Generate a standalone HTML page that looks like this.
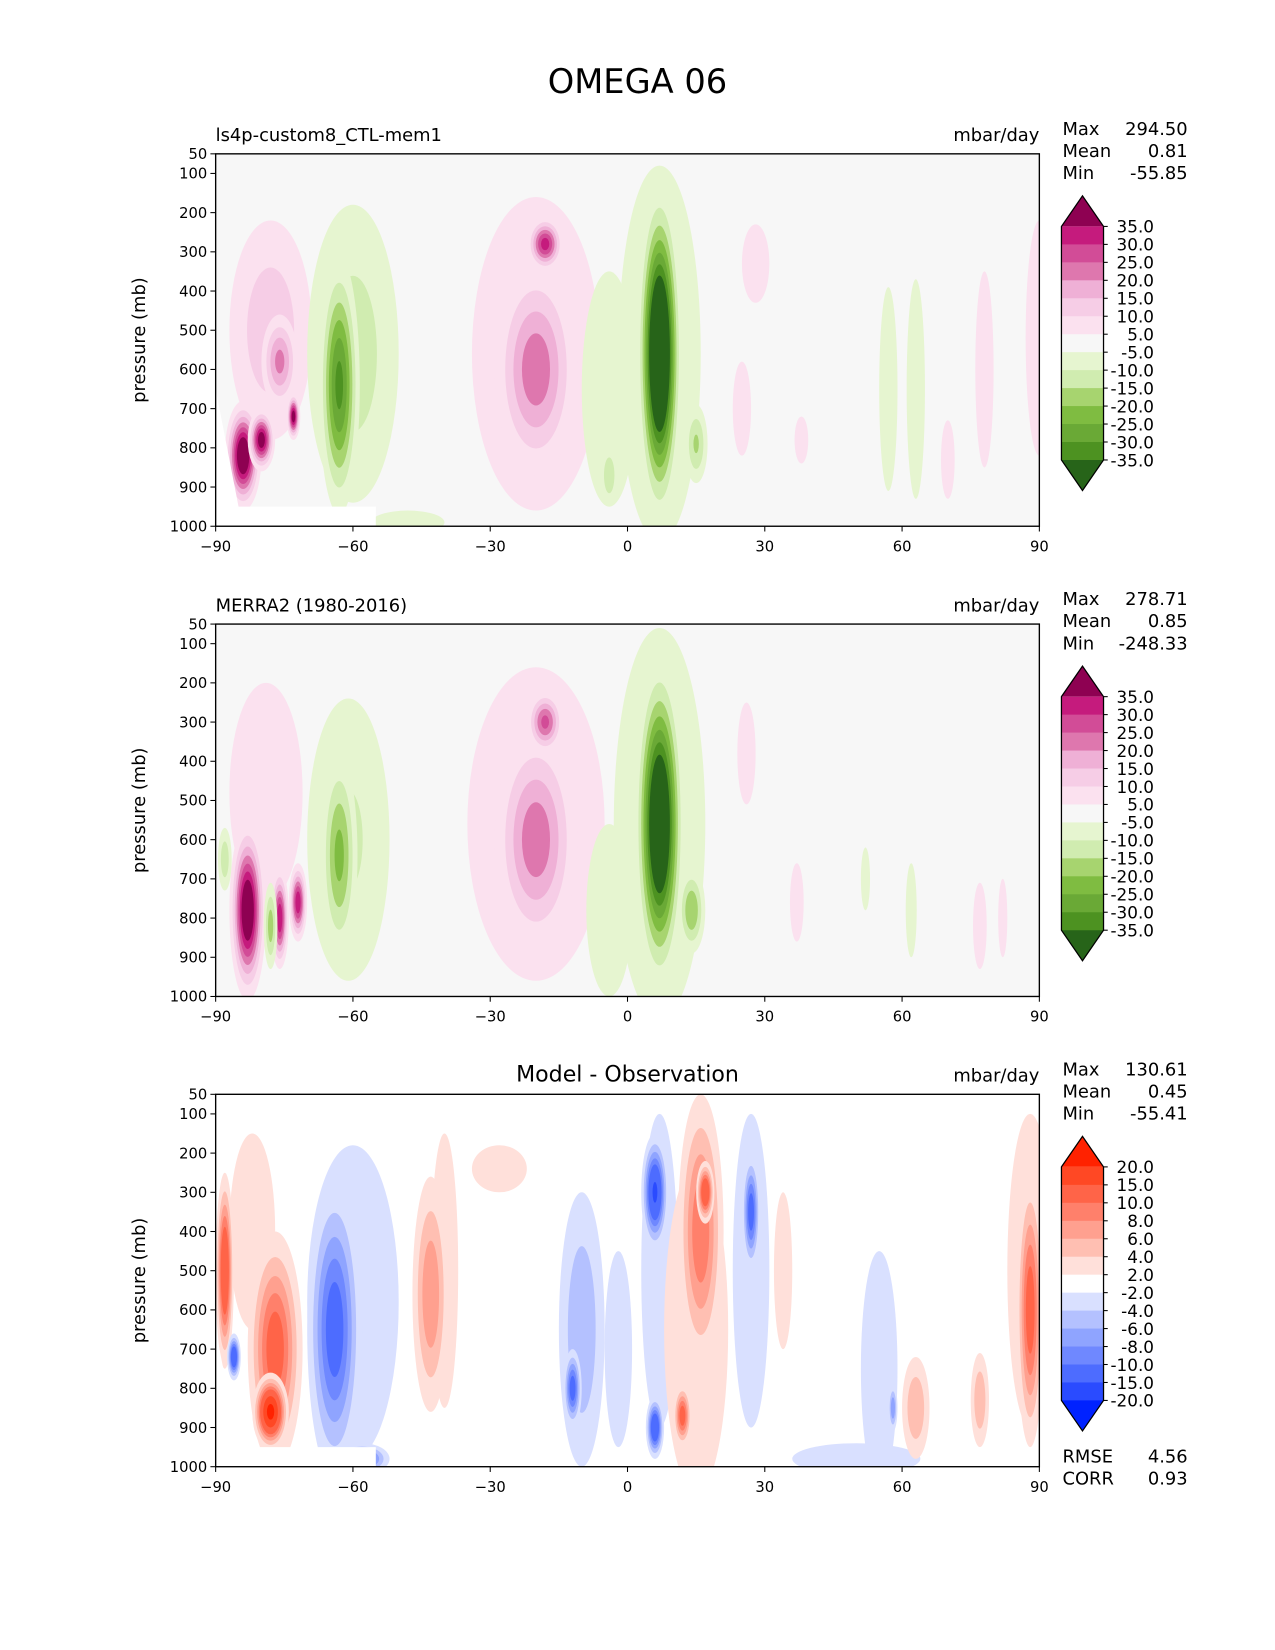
<!DOCTYPE html>
<html><head><meta charset="utf-8"><style>
html,body{margin:0;padding:0;background:#fff;}
svg{display:block;font-family:"DejaVu Sans","Liberation Sans",sans-serif;}
</style></head><body>
<svg id="fig" width="1275" height="1650" viewBox="0 0 1212 1568" xmlns="http://www.w3.org/2000/svg">
<rect width="1212" height="1568" fill="#fff"/>
<text x="606" y="88" font-size="32" text-anchor="middle">OMEGA 06</text>
</svg>
<script>
// ---- data ----
const latTicks=[-90,-60,-30,0,30,60,90];
const presTicks=[50,100,200,300,400,500,600,700,800,900,1000];
const fullBounds=[-35,-30,-25,-20,-15,-10,-5,5,10,15,20,25,30,35];
const fullColors=['#276419','#3f7f1f','#4d9221','#6aa936','#7fbc41','#a7d46f','#d0ecb0','#e6f5d0','#f7f7f7','#fbe1ef','#f6cde6','#efb0d6','#de77ae','#d24c97','#c51b7d','#8e0152'];
const diffBounds=[-20,-15,-10,-8,-6,-4,-2,2,4,6,8,10,15,20];
const diffColors=['#0022ff','#2a4bff','#4d6cff','#6f88ff','#8fa4ff','#b4c1ff','#d9e0ff','#ffffff','#ffe0da','#ffbfb2','#ffa08f','#ff806b','#ff6448','#ff4824','#ff2200'];
// blobs: [lat, pressure, halfWidthLat, halfHeightP, peakValue]
const blobsModel=[[-78,500,9,280,14],[-76,580,4,120,22],[-84,820,4,140,45],[-80,780,3,80,40],[-73,720,1.5,60,40],
[-60,560,10,380,-13],[-63,640,4.5,330,-32],[-48,990,8,30,-7],
[-20,560,14,400,14],[-20,600,9,270,24],[-18,280,4,70,33],
[-4,650,6,300,-8],[-4,870,2,80,-14],[7,560,9,480,-12],[7,560,5,440,-58],[15,790,2.5,100,-16],
[28,330,3,100,7],[25,700,2,120,7],[38,780,1.5,60,7],[57,650,2,260,-7],[63,650,2,280,-7],[78,600,2,250,7],[90,520,3,300,7],[70,830,1.5,100,7]];
const blobsObs=[[-79,480,8,280,9],[-83,780,4,230,45],[-76,800,2,130,35],[-72,760,2,100,35],[-78,820,1.5,110,-18],[-88,650,1.5,80,-14],
[-61,600,9,360,-11],[-63,640,4,260,-22],
[-20,560,15,400,14],[-20,600,9,280,24],[-18,300,4,80,27],
[-4,780,5,220,-9],[7,560,10,500,-12],[7,560,5.5,430,-52],[14,780,3,110,-20],
[26,380,2,130,7],[37,760,1.5,100,7],[52,700,1,80,-7],[62,780,1.2,120,-7],[77,820,1.5,110,7],[82,800,1,100,7]];
const blobsDiff=[[-82,400,5,250,4],[-88,500,2,250,15],[-77,700,6,300,12],[-78,860,4,100,22],[-86,720,1.5,60,-15],
[-60,580,10,400,-4],[-64,650,6,380,-12],[-58,980,6,40,-12],
[-40,500,3,350,4],[-43,560,4,300,8],[-28,240,6,60,4],
[-2,700,3,250,-4],[-10,650,5,350,-6],[-12,800,2,100,-12],
[7,500,4,400,-4],[6,300,3,150,-16],[6,900,2,80,-15],
[15,650,7,420,4],[16,400,5,350,10],[17,300,2,80,15],[12,870,2,80,12],
[27,500,4,400,-4],[27,350,2,150,-12],[34,500,2,200,4],
[50,980,14,40,-4],[55,750,4,300,-4],[58,850,1,60,-8],
[63,850,3,130,6],[77,830,2,120,6],[88,500,5,400,4],[88,600,3,350,12]];
const statsModel=['294.50','0.81','-55.85'];
const statsObs=['278.71','0.85','-248.33'];
const statsDiff=['130.61','0.45','-55.41'];
const fullLabels=['35.0','30.0','25.0','20.0','15.0','10.0','5.0','-5.0','-10.0','-15.0','-20.0','-25.0','-30.0','-35.0'];
const diffLabels=['20.0','15.0','10.0','8.0','6.0','4.0','2.0','-2.0','-4.0','-6.0','-8.0','-10.0','-15.0','-20.0'];

const NS='http://www.w3.org/2000/svg';
const svg=document.getElementById('fig');
function mk(tag,attrs,parent){const e=document.createElementNS(NS,tag);for(const k in attrs)e.setAttribute(k,attrs[k]);(parent||svg).appendChild(e);return e;}
function txt(s,attrs,parent){const e=mk('text',attrs,parent);e.textContent=s;return e;}

function panel(idx,top,blobs,bounds,colorsIn,lmin,title,center,stats,labels,mask,extra){
  // ensure colors length = bounds.length+1
  let colors=colorsIn;
  if(colors.length>bounds.length+1){colors=colorsIn.filter((c,i)=>i!==1);}
  const L=205,R=988,T=top,B=top+354;
  const xs=lat=>L+(lat+90)/180*(R-L);
  const ys=p=>T+(p-50)/950*(B-T);
  const g=mk('g',{});
  
  
  const cid='clip'+idx;
  const cp=mk('clipPath',{id:cid},g);mk('rect',{x:L,y:T,width:R-L,height:B-T},cp);
  const bgIdx=bounds.filter(b=>b<=0).length;
  const bg=mk('rect',{x:L,y:T,width:R-L,height:B-T,fill:colors[bgIdx]},g);
  
  
  const fg=mk('g',{'clip-path':'url(#'+cid+')'},g);
  blobs.forEach((b,i)=>{
    const [lat,p,hw,hh,v]=b;
    const lv=bounds.filter(x=>v>0?(x>0&&x<v):(x<0&&x>v));
    if(v<0)lv.sort((a,c)=>c-a);
    const norm=Math.sqrt(Math.log(Math.abs(v)/lmin));
    lv.forEach(l=>{
      const r=Math.sqrt(Math.log(Math.abs(v)/Math.abs(l)))/norm;
      const val=v>0?l+0.001:l-0.001;
      const ci=bounds.filter(x=>x<=val).length;
      const e=mk('ellipse',{cx:xs(lat),cy:ys(p),rx:Math.max(0.5,(xs(lat+hw*r)-xs(lat))),ry:Math.max(0.5,ys(p+hh*r)-ys(p)),fill:colors[ci]},fg);
      
      
    });
  });
  if(mask){
    const pts=[[-90,650],[-85,950],[-55,950],[-55,1000],[-90,1000]].map(q=>xs(q[0])+','+ys(q[1])).join(' ');
    const m=mk('polygon',{points:pts,fill:'#fff'},fg);
    
    
  }
  const fr=mk('rect',{x:L,y:T,width:R-L,height:B-T,fill:'none',stroke:'#000','stroke-width':1.3},g);
  
  
  presTicks.forEach(p=>{
    mk('line',{x1:L-5,x2:L,y1:ys(p),y2:ys(p),stroke:'#000'},g);
    const t=txt(String(p),{x:L-8,y:ys(p)+5,'font-size':14,'text-anchor':'end'},g);
    
    
  });
  latTicks.forEach(l=>{
    mk('line',{x1:xs(l),x2:xs(l),y1:B,y2:B+5,stroke:'#000'},g);
    const t=txt(l<0?'\u2212'+(-l):String(l),{x:xs(l),y:B+24,'font-size':14,'text-anchor':'middle'},g);
    
    
  });
  const yt=txt('pressure (mb)',{x:0,y:0,'font-size':17,'text-anchor':'middle',transform:`translate(138,${(T+B)/2}) rotate(-90)`},g);
  
  
  if(title){const t=txt(title,{x:L,y:T-12,'font-size':17},g);}
  if(center){const t=txt(center,{x:(L+R)/2,y:T-12,'font-size':21,'text-anchor':'middle'},g);}
  const u=txt('mbar/day',{x:R,y:T-12,'font-size':17,'text-anchor':'end'},g);
  
  
  ['Max','Mean','Min'].forEach((n,i)=>{
    const a=txt(n,{x:1010,y:T-18+i*21,'font-size':17},g);
    
    
    const b=txt(stats[i],{x:1129,y:T-18+i*21,'font-size':17,'text-anchor':'end'},g);
    
    
  });
  // colorbar
  const cx0=1009,cx1=1049,c0=T+69,c1=T+291,n=bounds.length-1,h=(c1-c0)/n;
  const cb=mk('g',{},g);
  
  
  mk('polygon',{points:`${cx0},${c0} ${(cx0+cx1)/2},${c0-29} ${cx1},${c0}`,fill:colors[colors.length-1]},cb);
  for(let i=0;i<n;i++)mk('rect',{x:cx0,y:c0+i*h,width:cx1-cx0,height:h+0.5,fill:colors[colors.length-2-i]},cb);
  mk('polygon',{points:`${cx0},${c1} ${(cx0+cx1)/2},${c1+29} ${cx1},${c1}`,fill:colors[0]},cb);
  mk('polygon',{points:`${cx0},${c0} ${(cx0+cx1)/2},${c0-29} ${cx1},${c0} ${cx1},${c1} ${(cx0+cx1)/2},${c1+29} ${cx0},${c1}`,fill:'none',stroke:'#000','stroke-width':1.2},cb);
  labels.forEach((s,i)=>{
    mk('line',{x1:cx1,x2:cx1+4,y1:c0+i*h,y2:c0+i*h,stroke:'#000'},cb);
    const t=txt(s,{x:1097,y:c0+i*h+6,'font-size':16,'text-anchor':'end'},cb);
    
    
  });
  if(extra){
    [['RMSE','4.56'],['CORR','0.93']].forEach((r,i)=>{
      const a=txt(r[0],{x:1010,y:B-4+i*21+0,'font-size':17},g);
      
      
      const b=txt(r[1],{x:1129,y:B-4+i*21,'font-size':17,'text-anchor':'end'},g);
      
      
    });
  }
}
panel(1,146,blobsModel,fullBounds,fullColors,5,'ls4p-custom8_CTL-mem1',null,statsModel,fullLabels,true,false);
panel(2,593,blobsObs,fullBounds,fullColors,5,'MERRA2 (1980-2016)',null,statsObs,fullLabels,false,false);
panel(3,1040,blobsDiff,diffBounds,diffColors,2,null,'Model - Observation',statsDiff,diffLabels,true,true);
</script>
</body></html>
